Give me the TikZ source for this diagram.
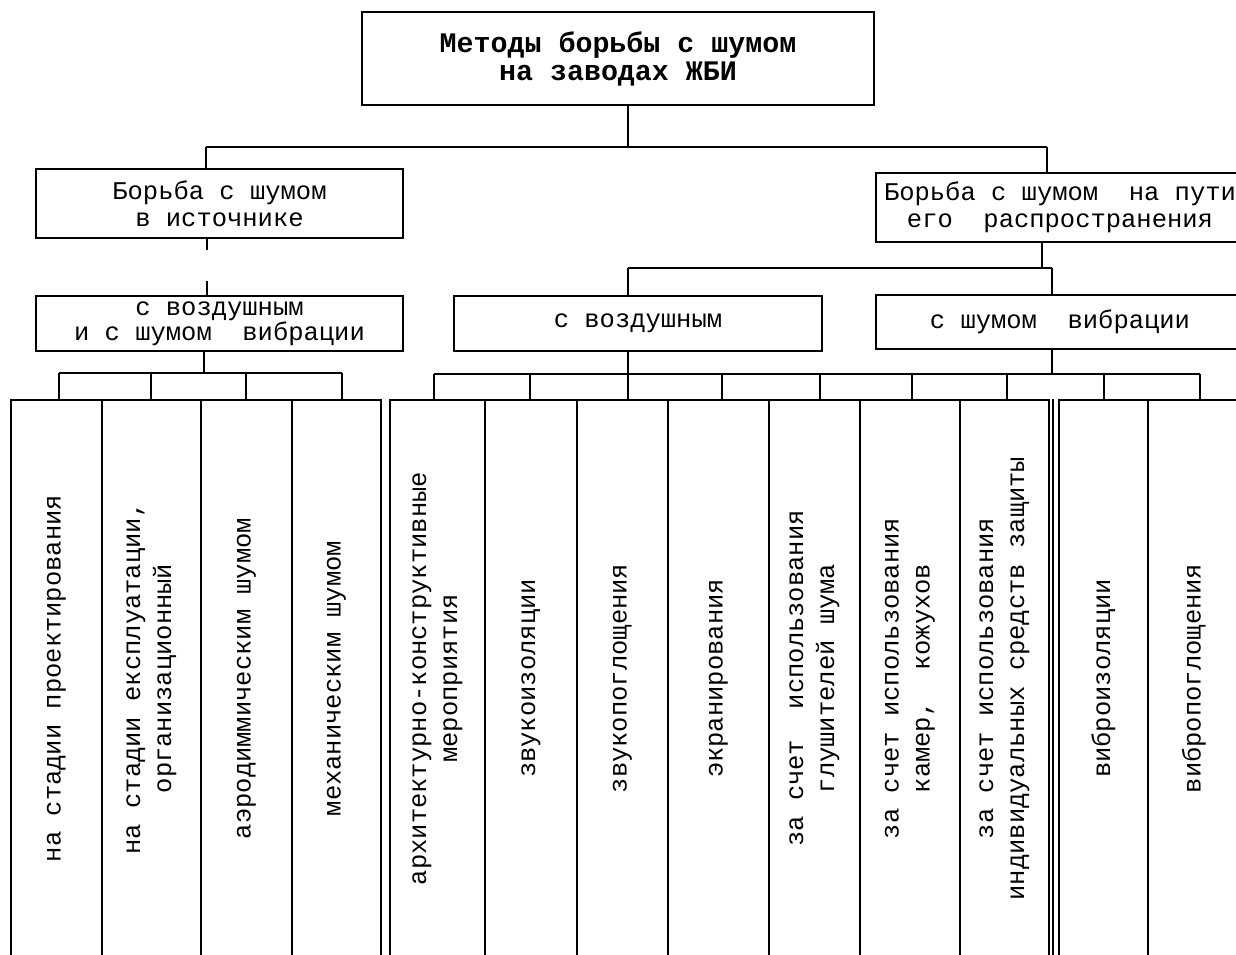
\documentclass[tikz,border=0pt]{standalone}
\usepackage{fontspec}
\setmainfont{Liberation Mono}
\tikzset{
  box/.style={draw, line width=1.8pt, inner sep=0pt, align=center},
  colbox/.style={draw, line width=1.8pt, inner sep=0pt},
  hdr/.style={font=\fontsize{25.5}{27}\selectfont},
  vtext/.style={rotate=90, align=center, inner sep=0pt, font=\fontsize{25.5}{31}\selectfont},
  conn/.style={line width=1.8pt},
}
\begin{document}
\begin{tikzpicture}[x=1pt, y=-1pt]
\useasboundingbox (0,0) rectangle (1236,954);
\clip (0,0) rectangle (1236,954);

% header boxes
\node[box, minimum width=512pt, minimum height=93pt, font=\bfseries\fontsize{28.3}{28}\selectfont] (top) at (618,58.5) {Методы борьбы с шумом\\ на заводах ЖБИ};
\node[box, hdr, minimum width=367pt, minimum height=69pt] (src) at (219.5,203.5) {Борьба с шумом\\ в источнике};
\node[box, hdr, minimum width=368pt, minimum height=69pt] (path) at (1060,207.5) {Борьба с шумом~ на пути\\ его~ распространения};
\node[box, font=\fontsize{25.5}{20}\selectfont, minimum width=367pt, minimum height=55pt] (mix) at (219.5,323.5) {с воздушным\\ и с шумом~ вибрации};
\node[box, hdr, minimum width=368pt, minimum height=55pt] (air) at (638,323.5) {с воздушным};
\node[box, hdr, minimum width=368pt, minimum height=54pt] (vib) at (1060,322) {с шумом~ вибрации};

% columns
\foreach \n/\l/\r in {c1/11/102, c2/102/201, c3/201/292, c4/292/381,
  c5/390/485, c6/485/577, c7/577/668, c8/668/769, c9/769/860, c10/860/960, c11/960/1049,
  c12/1059/1148, c13/1148/1240}{
  \node[colbox, minimum width={(\r-\l)*1pt}, minimum height=557pt] (\n) at ({(\l+\r)/2},678.5) {};
}
\draw[conn] ([xshift=3pt]c11.north east) -- ([xshift=3pt]c11.south east);

\node[vtext] (t1) at (c1) {на стадии проектирования};
\node[vtext] (t2) at (c2) {на стадии експлуатации,\\ организационный};
\node[vtext] (t3) at (c3) {аэродиммическим шумом};
\node[vtext] (t4) at (c4) {механическим шумом};
\node[vtext] (t5) at (c5) {архитектурно-конструктивные\\ мероприятия};
\node[vtext] (t6) at (c6) {звукоизоляции};
\node[vtext] (t7) at (c7) {звукопоглощения};
\node[vtext] (t8) at (c8) {экранирования};
\node[vtext] (t9) at (c9) {за счет~ использования\\ глушителей шума};
\node[vtext] (t10) at (c10) {за счет использования\\ камер,~ кожухов};
\node[vtext] (t11) at (c11) {за счет использования\\ индивидуальных средств защиты};
\node[vtext] (t12) at (c12) {виброизоляции};
\node[vtext] (t13) at (c13) {вибропоглощения};

% top level connectors
\coordinate (tj) at (628,147);
\coordinate (tl) at (206,147);
\coordinate (tr) at (1047,147);
\draw[conn] (tj |- top.south) -- (tj);
\draw[conn] (tl) -- (tr);
\draw[conn] (tl) -- (tl |- src.north);
\draw[conn] (tr) -- (tr |- path.north);

% source -> mix (broken line)
\coordinate (sx) at (207,250);
\draw[conn] (sx |- src.south) -- ++(0,11);
\draw[conn] (sx |- mix.north) -- ++(0,-14);

% path -> air / vib
\coordinate (pj) at (1042,268);
\coordinate (pl) at (628,268);
\coordinate (pr) at (1052,268);
\draw[conn] (pj |- path.south) -- (pj);
\draw[conn] (pl) -- (pr);
\draw[conn] (pl) -- (pl |- air.north);
\draw[conn] (pr) -- (pr |- vib.north);

% mix -> left columns
\coordinate (mj) at (204,373);
\coordinate (l1) at (59,373);
\coordinate (l2) at (151,373);
\coordinate (l3) at (246,373);
\coordinate (l4) at (342,373);
\draw[conn] (mj |- mix.south) -- (mj);
\draw[conn] (l1) -- (l4);
\draw[conn] (l1) -- (l1 |- c1.north);
\draw[conn] (l2) -- (l2 |- c2.north);
\draw[conn] (l3) -- (l3 |- c3.north);
\draw[conn] (l4) -- (l4 |- c4.north);

% air / vib -> columns
\coordinate (m1) at (434,374);
\coordinate (m2) at (530,374);
\coordinate (m3) at (628,374);
\coordinate (m4) at (722,374);
\coordinate (m5) at (820,374);
\coordinate (m6) at (912,374);
\coordinate (m7) at (1007,374);
\coordinate (m8) at (1104,374);
\coordinate (m9) at (1200,374);
\coordinate (vj) at (1052,374);
\draw[conn] (m1) -- (m9);
\draw[conn] (m3 |- air.south) -- (m3);
\draw[conn] (vj |- vib.south) -- (vj);
\draw[conn] (m1) -- (m1 |- c5.north);
\draw[conn] (m2) -- (m2 |- c6.north);
\draw[conn] (m3) -- (m3 |- c7.north);
\draw[conn] (m4) -- (m4 |- c8.north);
\draw[conn] (m5) -- (m5 |- c9.north);
\draw[conn] (m6) -- (m6 |- c10.north);
\draw[conn] (m7) -- (m7 |- c11.north);
\draw[conn] (m8) -- (m8 |- c12.north);
\draw[conn] (m9) -- (m9 |- c13.north);
\end{tikzpicture}
\end{document}
